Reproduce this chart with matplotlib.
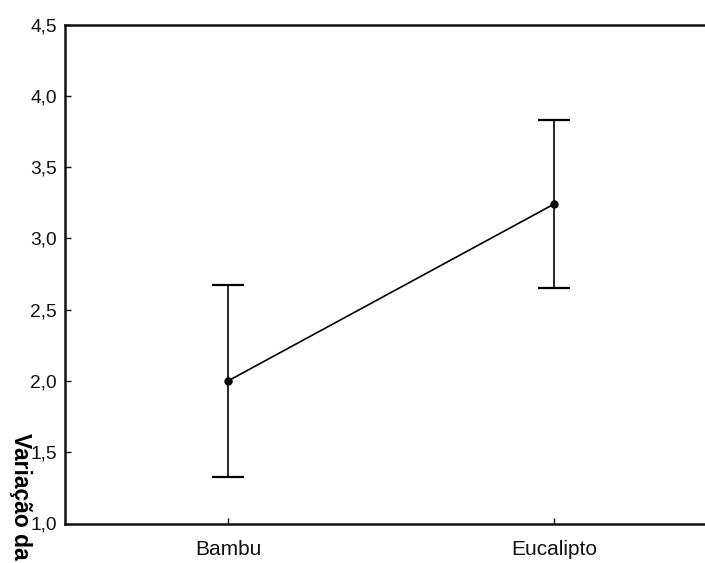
import matplotlib
matplotlib.use('Agg')
import matplotlib.pyplot as plt

# medias e intervalos por tipo de substrato
grupos = ['Bambu', 'Eucalipto']
medias = [2.00, 3.24]
erros = [0.675, 0.59]

plt.rcParams['font.family'] = ['Liberation Sans', 'DejaVu Sans']

fig = plt.figure(figsize=(7.05, 5.63), dpi=100)
ax = fig.add_axes([65 / 705, 39.5 / 563, 647 / 705, 499 / 563])

pos = list(range(len(grupos)))
ax.errorbar(pos, medias, yerr=erros, color='black', lw=1.2, elinewidth=1.2,
            capsize=11.5, capthick=1.6, marker='o', markersize=5)

ax.set_xlim(-0.5, 1.485)
ax.set_ylim(1.0, 4.5)
ax.set_xticks(pos)
ax.set_xticklabels(grupos, fontsize=15)
yt = [1.0, 1.5, 2.0, 2.5, 3.0, 3.5, 4.0, 4.5]
ax.set_yticks(yt)
ax.set_yticklabels([f'{v:.1f}'.replace('.', ',') for v in yt], fontsize=13.8)

ax.tick_params(axis='both', direction='in', length=4, width=1, colors='#111111')
ax.tick_params(axis='x', pad=12)
ax.tick_params(axis='y', pad=6)
for s in ['left', 'top', 'bottom']:
    ax.spines[s].set_linewidth(1.8)
    ax.spines[s].set_color('#111111')
ax.spines['right'].set_visible(False)

# rotulo do eixo y lido de cima para baixo
fig.text(20 / 705, 1 - 433 / 563, 'Variação da', rotation=270, ha='center',
         va='top', fontsize=16.5, fontweight='bold')

fig.savefig('out.png', dpi=100)
